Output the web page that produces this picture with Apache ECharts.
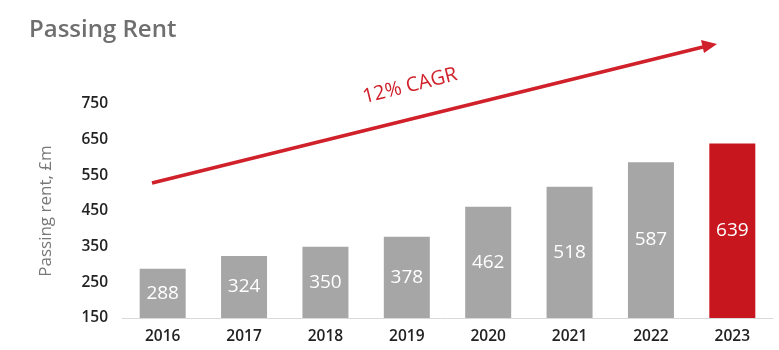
<!DOCTYPE html>
<html><head><meta charset="utf-8">
<script src="https://cdn.jsdelivr.net/npm/echarts@6/dist/echarts.min.js"></script>
<style>html,body{margin:0;padding:0;background:#fff}#c{width:779px;height:350px}</style>
</head><body><div id="c"></div>
<script>
var categories = ['2016','2017','2018','2019','2020','2021','2022','2023'];
var values = [288, 324, 350, 378, 462, 518, 587, 639];
var highlight = [false, false, false, false, false, false, false, true];
var yTicks = [150, 250, 350, 450, 550, 650, 750];

var chart = echarts.init(document.getElementById('c'));
var data = values.map(function (v, i) {
  return { value: v, itemStyle: { color: highlight[i] ? '#c8161e' : '#a6a6a6' } };
});
chart.setOption({
  animation: false,
  title: {
    text: 'Passing Rent', left: 24, top: 13,
    textStyle: { fontFamily: 'Open Sans', fontWeight: 600, fontSize: 24, color: '#6f6f6f' }
  },
  grid: { left: 122, right: 6, top: 104, bottom: 32 },
  xAxis: {
    type: 'category', data: categories,
    axisLine: { lineStyle: { color: '#d9d9d9', width: 1 } },
    axisTick: { show: false },
    axisLabel: { color: '#222', fontFamily: 'Open Sans', fontWeight: 600, fontSize: 15.5, margin: 11 }
  },
  yAxis: {
    type: 'value', min: 150, max: 750, interval: 100,
    name: 'Passing rent, £m', nameLocation: 'middle', nameGap: 67,
    nameTextStyle: { color: '#777', fontFamily: 'Open Sans', fontSize: 17 },
    axisLine: { show: false }, axisTick: { show: false }, splitLine: { show: false },
    axisLabel: { color: '#222', fontFamily: 'Open Sans', fontWeight: 600, fontSize: 15.5, margin: 14 }
  },
  series: [{
    type: 'bar', data: data, barWidth: 46,
    label: { show: true, position: 'inside', color: '#fff', fontFamily: 'Open Sans', fontSize: 19 }
  }],
  graphic: [
    { type: 'line', shape: { x1: 152, y1: 183, x2: 703, y2: 47 }, style: { stroke: '#d0202a', lineWidth: 3.5 } },
    { type: 'polygon', shape: { points: [[717, 44], [701, 40], [704, 53]] }, style: { fill: '#d0202a' } },
    { type: 'text', x: 410, y: 86, rotation: 0.243, style: { text: '12% CAGR', fill: '#d0202a', font: '20px "Open Sans"', textAlign: 'center', textVerticalAlign: 'middle' } }
  ]
});
</script></body></html>
